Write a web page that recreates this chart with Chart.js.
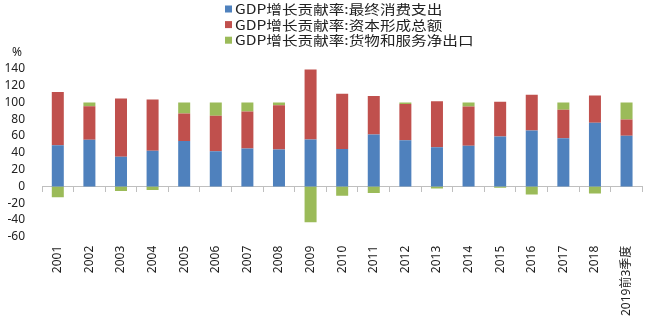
<!DOCTYPE html>
<html>
<head>
<meta charset="utf-8">
<script src="https://cdn.jsdelivr.net/npm/chart.js@4.4.1/dist/chart.umd.min.js"></script>
<style>
  html, body { margin: 0; padding: 0; background: #fff; }
  #wrap { width: 650px; height: 326px; }
</style>
</head>
<body>
<div id="wrap"><canvas id="chart"></canvas></div>
<script>
// data (%)
const categories = ['2001', '2002', '2003', '2004', '2005', '2006', '2007', '2008', '2009', '2010',
  '2011', '2012', '2013', '2014', '2015', '2016', '2017', '2018', '2019前3季度'];
const seriesNames = ['GDP增长贡献率:最终消费支出', 'GDP增长贡献率:资本形成总额', 'GDP增长贡献率:货物和服务净出口'];
const consumption = [49, 55.5, 35.4, 42.5, 54.2, 42, 45.3, 44, 56, 44.5, 61.8, 55, 46.6, 48.5, 59.5, 66.5, 57.5, 76, 60.3];
const capital = [63.5, 40, 69.5, 61, 32.8, 42.3, 44, 52.8, 83.3, 66, 46, 43.2, 55, 46.8, 41.5, 42.8, 34, 32.4, 19.5];
const netExports = [-13, 4.5, -5.5, -4.2, 13, 15.7, 10.7, 3.2, -42.8, -11.2, -8, 1.8, -2.4, 4.7, -1.5, -9.6, 8.5, -8.6, 20.2];
const yMin = -60, yMax = 140, yStep = 20;
const unitLabel = '%';

const colors = ['#4F81BD', '#C0504D', '#9BBB59'];
const tickFont = { family: '"Noto Sans", "Noto Sans CJK SC", sans-serif', size: 12 };

// legend stacked in 3 rows, plus the unit over the y axis
const topLegend = {
  id: 'topLegend',
  afterDraw(chart) {
    const ctx = chart.ctx;
    ctx.save();
    chart.data.datasets.forEach((ds, i) => {
      const y = 9 + i * 15.6;
      ctx.fillStyle = ds.backgroundColor;
      ctx.fillRect(225, y - 3.5, 7, 7);
      ctx.save();
      ctx.translate(235, y);
      ctx.scale(1.2, 1);
      ctx.fillStyle = '#222';
      ctx.font = '13px "Noto Sans CJK SC", sans-serif';
      ctx.textBaseline = 'middle';
      ctx.fillText(ds.label, 0, 0);
      ctx.restore();
    });
    ctx.fillStyle = '#222';
    ctx.font = '12px "Noto Sans", sans-serif';
    ctx.textAlign = 'center';
    ctx.textBaseline = 'middle';
    ctx.fillText(unitLabel, 17, 53);
    ctx.restore();
  }
};

const values = [consumption, capital, netExports];

new Chart(document.getElementById('chart'), {
  type: 'bar',
  data: {
    labels: categories,
    datasets: values.map((v, i) => ({
      label: seriesNames[i],
      data: v,
      backgroundColor: colors[i],
      categoryPercentage: 1,
      barPercentage: 0.38,
    })),
  },
  options: {
    responsive: true,
    maintainAspectRatio: false,
    animation: false,
    layout: { padding: { top: 69, right: 2, bottom: 1, left: 0 } },
    plugins: {
      legend: { display: false },
      tooltip: { enabled: false },
    },
    scales: {
      x: {
        stacked: true,
        offset: true,
        grid: { display: false, drawTicks: false },
        border: { display: false },
        ticks: { color: '#222', font: tickFont, minRotation: 90, maxRotation: 90, padding: 9, autoSkip: false },
      },
      x2: {
        type: 'category',
        position: { y: 0 },
        offset: true,
        grid: { display: true, offset: true, drawOnChartArea: false, drawTicks: true, tickLength: 5, color: '#bfbfbf' },
        border: { display: true, color: '#bfbfbf' },
        ticks: { display: false },
      },
      y: {
        stacked: true,
        min: yMin,
        max: yMax,
        grid: { display: false, drawTicks: false },
        border: { display: false },
        ticks: { stepSize: yStep, autoSkip: false, color: '#222', font: tickFont, padding: 17 },
        afterFit(scale) { scale.width = 42; },
      },
    },
  },
  plugins: [topLegend],
});
</script>
</body>
</html>
